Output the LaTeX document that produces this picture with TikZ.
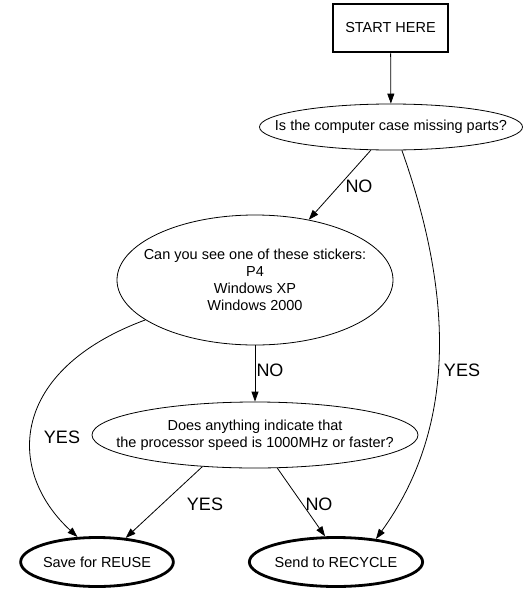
\documentclass[tikz,border=0pt]{standalone}
\usepackage{fontspec}
\setmainfont{Liberation Sans}
\usetikzlibrary{shapes.geometric, arrows.meta}

\newcommand{\nodefont}{\fontsize{14.5}{17}\selectfont}
\newcommand{\edgefont}{\fontsize{18}{20}\selectfont}

\tikzset{
  question/.style={ellipse, draw, line width=0.8pt, inner sep=0pt},
  asks/.style={label={[align=center, font=\nodefont]center:{#1}}},
  outcome/.style={ellipse, draw, line width=2.8pt, inner sep=0pt, font=\nodefont},
  startbox/.style={rectangle, draw, line width=2.8pt, inner sep=0pt, font=\nodefont},
  flow/.style={line width=0.8pt, -{Triangle[length=10pt,width=7pt]}},
  answer/.style={font=\edgefont, inner sep=0pt}
}

\begin{document}
\begin{tikzpicture}[x=1pt, y=-1pt]
% pixel grid of the 529x592 chart, y running down
\useasboundingbox (0,0) rectangle (529,592);

% --- Nodes ---
\node[startbox, minimum width=115pt, minimum height=48pt] (start) at (390.5,28) {START HERE};
\node[question, minimum width=263pt, minimum height=46pt,
  asks={Is the computer case missing parts?}] (case) at (391,127) {};
\node[question, minimum width=276pt, minimum height=130pt,
  asks={Can you see one of these stickers:\\P4\\Windows XP\\Windows 2000}] (stickers) at (255,280) {};
\node[question, minimum width=326pt, minimum height=66pt,
  asks={Does anything indicate that\\the processor speed is 1000MHz or faster?}] (speed) at (255,435) {};
\node[outcome, minimum width=140pt, minimum height=49pt] (reuse) at (97,562) {Save for REUSE};
\node[outcome, minimum width=154pt, minimum height=49pt] (recycle) at (336,562) {Send to RECYCLE};

% --- Edges ---
\draw[flow] (start) -- (case);
\draw[flow] (case.-131) -- (stickers);
\draw[flow] (case.-65) .. controls (455,300) and (455,430) .. (recycle.30);
\draw[flow] (stickers.-160) .. controls (10,370) and (5,470) .. (reuse.128);
\draw[flow] (stickers) -- (speed);
\draw[flow] (speed.-149) -- (reuse.40);
\draw[flow] (speed.-56) -- (recycle.113);

% --- Edge labels ---
\node[answer] (noCase) at (359,186) {NO};
\node[answer] (yesCase) at (462,370) {YES};
\node[answer] (noStickers) at (270,370) {NO};
\node[answer] (yesStickers) at (62,437) {YES};
\node[answer] (yesSpeed) at (205,504) {YES};
\node[answer] (noSpeed) at (319,504) {NO};
\end{tikzpicture}
\end{document}
